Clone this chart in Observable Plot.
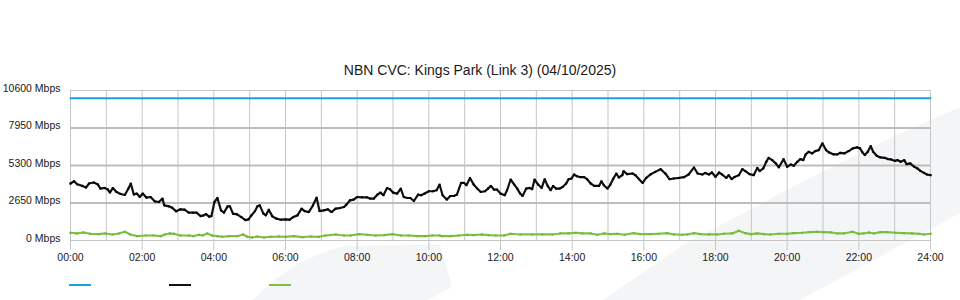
<!DOCTYPE html>
<html>
<head>
<meta charset="utf-8">
<script src="https://cdn.jsdelivr.net/npm/d3@7"></script>
<script src="https://cdn.jsdelivr.net/npm/@observablehq/plot@0.6"></script>
<style>
  body { margin: 0; background: #fff; }
  #wrap { position: relative; width: 960px; height: 300px; overflow: hidden; font-family: "Liberation Sans", Arial, sans-serif; }
  #bg { position: absolute; left: 0; top: 0; }
  #title { position: absolute; top: 62px; left: 0; width: 960px; text-align: center; font-size: 14px; color: #1a1a1a; line-height: 16px; }
  #chart { position: absolute; left: 0; top: 0; }
  .sw { position: absolute; top: 284px; width: 22px; height: 2px; }
</style>
</head>
<body>
<div id="wrap">
  <svg id="bg" width="960" height="300">
    <path d="M253,300 C275,276 305,256 345,246 L440,244 L452,287 L428,300 Z" fill="#f4f5f7"/>
    <path d="M603,300 L683,245 L810,178 L897,135 L960,107 L960,213 L800,300 Z" fill="#f4f5f7"/>
  </svg>
  <div id="title">NBN CVC: Kings Park (Link 3) (04/10/2025)</div>
  <div id="chart"></div>
  <div class="sw" style="left:69px;background:#1ba1e2"></div>
  <div class="sw" style="left:169px;background:#111"></div>
  <div class="sw" style="left:269px;background:#7cc242"></div>
</div>
<script>
// ---- data (minutes since midnight, Mbps) ----
const capacityMin = [0, 1440];
const capacityVal = [10050, 10050];

const blackMin = [0,6,11,20,26,31,39,46,50,57,62,66,71,77,84,91,97,101,106,111,116,121,127,134,141,148,154,157,165,170,177,184,191,198,205,211,218,223,227,232,236,241,246,252,257,263,267,272,279,286,293,298,303,309,
313,317,323,327,332,338,345,352,360,367,373,380,387,392,399,406,412,417,424,431,437,444,451,458,462,468,474,480,488,496,502,508,514,519,524,530,535,540,547,553,558,564,569,575,582,587,593,600,607,613,618,
623,630,636,642,647,654,659,663,669,675,681,687,694,699,704,709,714,720,727,731,737,743,748,753,757,763,769,773,777,783,789,794,799,804,808,813,819,824,830,834,839,843,848,854,860,865,871,877,885,889,893,899,904,909,914,918,924,
926,932,941,946,952,958,964,971,979,988,996,1003,1010,1019,1027,1035,1044,1050,1058,1063,1069,1074,1080,1086,1091,1098,1102,1107,1112,1119,1125,1130,1137,1144,1150,1154,1160,1165,1169,1175,1181,1186,1194,1200,1206,1211,1217,1222,
1227,1231,1236,1242,1247,1253,1259,1265,1270,1278,1284,1289,1296,1303,1310,1317,1322,1326,1330,1335,1340,1344,1350,1356,1363,1369,1374,1380,1385,1390,1396,1400,1406,1413,1418,1423,1429,1434,1440];
const blackVal = [4026,4190,3976,3857,3740,4026,4097,3955,3670,3713,3621,3387,3713,3429,3287,3216,3670,4026,3245,3316,3074,3316,3032,3074,2769,2720,2961,2485,2414,2322,2059,2201,2180,1967,1967,1967,1725,1775,1867,1683,1725,2720,3004,2130,1967,2414,2414,1896,1846,1654,1441,1491,1775,2080,
2414,2485,1896,1775,2180,1704,1541,1470,1491,1470,1654,1775,2251,2080,2009,2485,3032,2080,2130,2201,2009,2251,2293,2364,2535,2840,2890,3074,3053,3053,2961,2961,3245,3387,3195,3713,3621,3387,3316,3670,3074,3004,3004,2790,3245,3195,3316,3479,3479,3550,3955,
3195,2890,3145,3145,3245,4068,4068,3905,4423,3955,3670,3429,3479,3670,3857,3599,3599,3316,3195,3550,4310,3955,3670,3316,3145,3670,3713,3621,4310,3955,3713,4331,3857,3550,3857,3670,3670,3784,4026,4331,4381,4665,4544,4473,4473,4331,4026,3857,3857,4189,3905,3670,3955,4381,4736,4452,4615,
4899,4686,4736,4615,4331,4068,4423,4665,4850,5041,4736,4331,4381,4423,4473,4665,5162,4736,4665,4778,4665,4807,4494,4807,4665,4423,4615,4331,4494,4615,5041,4899,4686,4615,5133,4899,5091,5560,5844,5680,5446,5162,5751,5204,5375,5275,5560,5751,
5680,6085,6269,6156,6319,6390,6866,6390,6227,6085,6085,6198,6156,6319,6511,6582,6511,6227,6035,6269,6674,6269,5985,5873,5844,5751,5730,5630,5680,5560,5680,5396,5446,5204,5091,4920,4778,4665,4615];

const greenMin = [0,11,22,33,47,59,70,81,91,100,112,126,139,151,158,166,173,184,198,206,215,221,229,237,246,254,265,279,289,296,304,
313,324,335,349,360,374,388,402,416,427,444,458,469,483,497,511,525,539,553,566,581,594,606,618,
622,636,650,664,675,689,700,712,726,737,753,773,790,807,820,834,846,857,871,882,893,904,915,928,
943,954,971,985,999,1010,1024,1033,1044,1055,1069,1083,1094,1108,1119,1130,1139,1150,1161,1172,1186,1200,1211,1225,1238,
1250,1261,1273,1284,1295,1309,1320,1328,1337,1345,1356,1367,1381,1395,1409,1420,1429,1440];
const greenVal = [547,497,568,476,447,497,426,497,618,426,305,355,355,305,426,497,476,355,355,305,405,355,497,355,305,263,305,305,426,263,213,
284,213,263,284,263,305,234,284,263,355,426,355,355,447,405,355,376,447,355,355,305,305,355,355,
305,305,355,405,376,426,376,355,355,476,426,426,426,426,497,497,547,497,497,405,497,447,476,405,
518,447,447,476,518,426,405,426,518,447,426,426,476,497,689,518,447,497,447,426,476,476,518,547,589,
618,589,568,497,497,618,476,497,568,497,589,589,547,518,497,476,426,476];

const yTicks = [0, 2650, 5300, 7950, 10600];
const xTickMin = [0,120,240,360,480,600,720,840,960,1080,1200,1320,1440];
const xTickLabels = ["00:00","02:00","04:00","06:00","08:00","10:00","12:00","14:00","16:00","18:00","20:00","22:00","24:00"];
const hourMin = d3.range(0, 1441, 60);

const zip = (xs, ys) => xs.map((x, i) => ({x, y: ys[i]}));
const capacity = zip(capacityMin, capacityVal);
const black = zip(blackMin, blackVal);
const green = zip(greenMin, greenVal);

const chart = Plot.plot({
  width: 960,
  height: 300,
  marginLeft: 70,
  marginRight: 30,
  marginTop: 90,
  marginBottom: 60,
  style: { background: "transparent", fontFamily: "'Liberation Sans', Arial, sans-serif", fontSize: "10.5px", color: "#1a1a1a" },
  x: { domain: [0, 1440] },
  y: { domain: [0, 10600] },
  marks: [
    Plot.ruleX(hourMin, { stroke: "#c6c6c6", strokeWidth: 1 }),
    Plot.ruleY([2650, 5300, 7950], { stroke: "#bdbdbd", strokeWidth: 2 }),
    Plot.ruleY([0, 10600], { stroke: "#c6c6c6", strokeWidth: 1 }),
    Plot.axisX(xTickMin, {
      tickSize: 10, tickPadding: 3, stroke: "#c6c6c6", fill: "#1a1a1a",
      tickFormat: d => xTickLabels[xTickMin.indexOf(d)], label: null
    }),
    Plot.axisY(yTicks, {
      tickSize: 0, tickPadding: 10, dy: -2, fill: "#1a1a1a",
      tickFormat: d => d + " Mbps", label: null
    }),
    Plot.line(capacity, { x: "x", y: "y", stroke: "#1ba1e2", strokeWidth: 2 }),
    Plot.line(green, { x: "x", y: "y", stroke: "#7cc242", strokeWidth: 2.2 }),
    Plot.dot(green, { x: "x", y: "y", r: 1.1, symbol: "square", fill: "#6db33a", stroke: "none" }),
    Plot.line(black, { x: "x", y: "y", stroke: "#111", strokeWidth: 2.2, strokeLinejoin: "miter" }),
    Plot.dot(black, { x: "x", y: "y", r: 1.1, symbol: "square", fill: "#000", stroke: "none" })
  ]
});
document.getElementById("chart").appendChild(chart);
</script>
</body>
</html>
